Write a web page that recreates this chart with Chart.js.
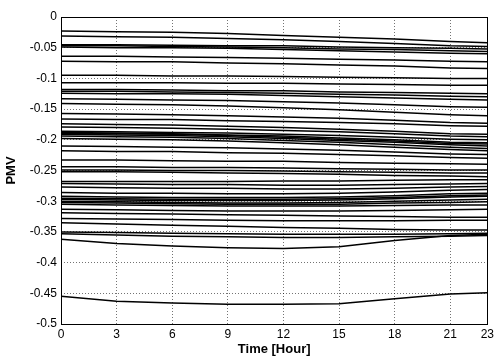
<!DOCTYPE html>
<html>
<head>
<meta charset="utf-8">
<script src="https://cdn.jsdelivr.net/npm/chart.js@4.4.0/dist/chart.umd.min.js"></script>
<style>
  html, body { margin: 0; padding: 0; background: #fff; }
  #wrap { width: 497px; height: 358px; }
</style>
</head>
<body>
<div id="wrap"><canvas id="pmvChart" width="497" height="358"></canvas></div>
<script>
const hours = [0, 3, 6, 9, 12, 15, 18, 21, 23];
const xTicks = [0, 3, 6, 9, 12, 15, 18, 21, 23];
const yMin = -0.5, yMax = 0, yStep = 0.05;

// upper curves (PMV above -0.15)
const topBand = [
    [-0.023, -0.024, -0.025, -0.027, -0.030, -0.033, -0.036, -0.040, -0.042],
    [-0.031, -0.032, -0.033, -0.035, -0.037, -0.040, -0.043, -0.047, -0.048],
    [-0.045, -0.045, -0.046, -0.047, -0.047, -0.049, -0.050, -0.051, -0.052],
    [-0.047, -0.047, -0.048, -0.049, -0.050, -0.052, -0.053, -0.055, -0.056],
    [-0.049, -0.050, -0.050, -0.051, -0.053, -0.055, -0.057, -0.059, -0.060],
    [-0.064, -0.064, -0.065, -0.066, -0.067, -0.069, -0.070, -0.072, -0.073],
    [-0.072, -0.073, -0.073, -0.075, -0.076, -0.078, -0.080, -0.083, -0.084],
    [-0.095, -0.095, -0.096, -0.096, -0.097, -0.098, -0.099, -0.100, -0.100],
    [-0.107, -0.107, -0.107, -0.108, -0.108, -0.109, -0.110, -0.111, -0.111],
    [-0.118, -0.118, -0.119, -0.120, -0.120, -0.122, -0.123, -0.124, -0.125],
    [-0.121, -0.121, -0.122, -0.123, -0.124, -0.126, -0.127, -0.129, -0.130],
    [-0.124, -0.125, -0.125, -0.126, -0.128, -0.130, -0.132, -0.134, -0.135],
    [-0.133, -0.134, -0.135, -0.136, -0.138, -0.140, -0.143, -0.146, -0.147],
    [-0.141, -0.142, -0.143, -0.145, -0.148, -0.151, -0.155, -0.159, -0.161]
];

// middle curves (-0.15 .. -0.26)
const midBand = [
    [-0.157, -0.158, -0.159, -0.161, -0.163, -0.165, -0.168, -0.172, -0.173],
    [-0.166, -0.167, -0.167, -0.169, -0.170, -0.172, -0.174, -0.177, -0.178],
    [-0.174, -0.175, -0.176, -0.178, -0.180, -0.183, -0.186, -0.190, -0.191],
    [-0.179, -0.180, -0.181, -0.183, -0.185, -0.187, -0.190, -0.194, -0.195],
    [-0.186, -0.187, -0.188, -0.189, -0.191, -0.193, -0.196, -0.199, -0.200],
    [-0.188, -0.189, -0.190, -0.192, -0.194, -0.197, -0.200, -0.204, -0.205],
    [-0.190, -0.190, -0.191, -0.193, -0.196, -0.199, -0.202, -0.206, -0.207],
    [-0.191, -0.192, -0.193, -0.195, -0.198, -0.201, -0.204, -0.208, -0.210],
    [-0.194, -0.195, -0.196, -0.198, -0.201, -0.204, -0.208, -0.212, -0.214],
    [-0.198, -0.199, -0.200, -0.202, -0.205, -0.208, -0.212, -0.216, -0.218],
    [-0.210, -0.211, -0.212, -0.213, -0.215, -0.217, -0.220, -0.223, -0.224],
    [-0.218, -0.219, -0.219, -0.221, -0.222, -0.224, -0.226, -0.229, -0.230],
    [-0.233, -0.233, -0.234, -0.235, -0.235, -0.237, -0.238, -0.239, -0.240],
    [-0.244, -0.244, -0.245, -0.245, -0.246, -0.247, -0.248, -0.249, -0.249],
    [-0.249, -0.249, -0.250, -0.250, -0.251, -0.252, -0.253, -0.254, -0.254],
    [-0.252, -0.252, -0.253, -0.254, -0.255, -0.256, -0.258, -0.259, -0.260]
];

// lower curves (below -0.26)
const lowBand = [
    [-0.268, -0.268, -0.268, -0.268, -0.267, -0.267, -0.266, -0.265, -0.265],
    [-0.271, -0.272, -0.273, -0.273, -0.274, -0.274, -0.273, -0.272, -0.271],
    [-0.277, -0.278, -0.279, -0.279, -0.280, -0.280, -0.279, -0.277, -0.276],
    [-0.286, -0.287, -0.287, -0.288, -0.288, -0.287, -0.285, -0.282, -0.281],
    [-0.292, -0.293, -0.294, -0.294, -0.294, -0.293, -0.291, -0.288, -0.287],
    [-0.295, -0.296, -0.297, -0.297, -0.297, -0.296, -0.294, -0.291, -0.290],
    [-0.297, -0.298, -0.299, -0.299, -0.299, -0.298, -0.296, -0.293, -0.292],
    [-0.300, -0.301, -0.302, -0.303, -0.303, -0.302, -0.300, -0.298, -0.297],
    [-0.302, -0.303, -0.304, -0.305, -0.305, -0.305, -0.303, -0.302, -0.301],
    [-0.305, -0.306, -0.307, -0.308, -0.308, -0.308, -0.307, -0.306, -0.306],
    [-0.313, -0.314, -0.315, -0.316, -0.316, -0.316, -0.315, -0.314, -0.313],
    [-0.319, -0.320, -0.321, -0.322, -0.323, -0.324, -0.325, -0.326, -0.326],
    [-0.328, -0.329, -0.330, -0.331, -0.332, -0.332, -0.332, -0.331, -0.331],
    [-0.335, -0.337, -0.339, -0.341, -0.343, -0.344, -0.346, -0.347, -0.347],
    [-0.350, -0.351, -0.352, -0.353, -0.354, -0.354, -0.354, -0.353, -0.352],
    [-0.353, -0.355, -0.357, -0.358, -0.359, -0.359, -0.358, -0.357, -0.356],
    [-0.362, -0.369, -0.373, -0.376, -0.377, -0.374, -0.364, -0.356, -0.354],
    [-0.455, -0.463, -0.466, -0.468, -0.468, -0.467, -0.459, -0.451, -0.449]
];

const allLines = topBand.concat(midBand, lowBand);

const datasets = allLines.map(vals => ({
    data: vals.map((v, i) => ({ x: hours[i], y: v })),
    borderColor: '#000',
    borderWidth: 1.5,
    pointRadius: 0,
    fill: false,
    tension: 0
}));

// black box round the plot area, like matlab
const boxPlugin = {
    id: 'box',
    afterDraw(chart) {
        const { ctx, chartArea: a } = chart;
        ctx.save();
        ctx.strokeStyle = '#000';
        ctx.lineWidth = 1;
        ctx.strokeRect(Math.round(a.left) + 0.5, Math.round(a.top) + 0.5,
            Math.round(a.right - a.left), Math.round(a.bottom - a.top));
        ctx.restore();
    }
};

const tickFont = { family: 'Liberation Sans, Arial, sans-serif', size: 12 };
const titleFont = { family: 'Liberation Sans, Arial, sans-serif', size: 13, weight: 'bold' };

new Chart(document.getElementById('pmvChart'), {
    type: 'line',
    data: { datasets: datasets },
    options: {
        responsive: false,
        animation: false,
        layout: { padding: { top: 17, right: 9, left: 0, bottom: 0 } },
        plugins: { legend: { display: false }, tooltip: { enabled: false } },
        scales: {
            x: {
                type: 'linear',
                min: 0,
                max: 23,
                afterBuildTicks: s => { s.ticks = xTicks.map(v => ({ value: v })); },
                afterFit: s => { s.height = 34; },
                ticks: { color: '#000', font: tickFont, padding: 3, maxRotation: 0, autoSkip: false },
                grid: { color: 'rgba(0,0,0,0.55)', drawTicks: false },
                border: { display: false, dash: [1, 2] },
                title: { display: true, text: 'Time [Hour]', color: '#000', font: titleFont, padding: { top: 0, bottom: 1 } }
            },
            y: {
                min: yMin,
                max: yMax,
                afterFit: s => { s.width = 61; },
                ticks: {
                    stepSize: yStep,
                    color: '#000',
                    font: tickFont,
                    padding: 4,
                    callback: v => String(Number(v.toFixed(2)))
                },
                grid: { color: 'rgba(0,0,0,0.55)', drawTicks: false },
                border: { display: false, dash: [1, 2] },
                title: { display: true, text: 'PMV', color: '#000', font: titleFont, padding: { top: 4, bottom: 0 } }
            }
        }
    },
    plugins: [boxPlugin]
});
</script>
</body>
</html>
